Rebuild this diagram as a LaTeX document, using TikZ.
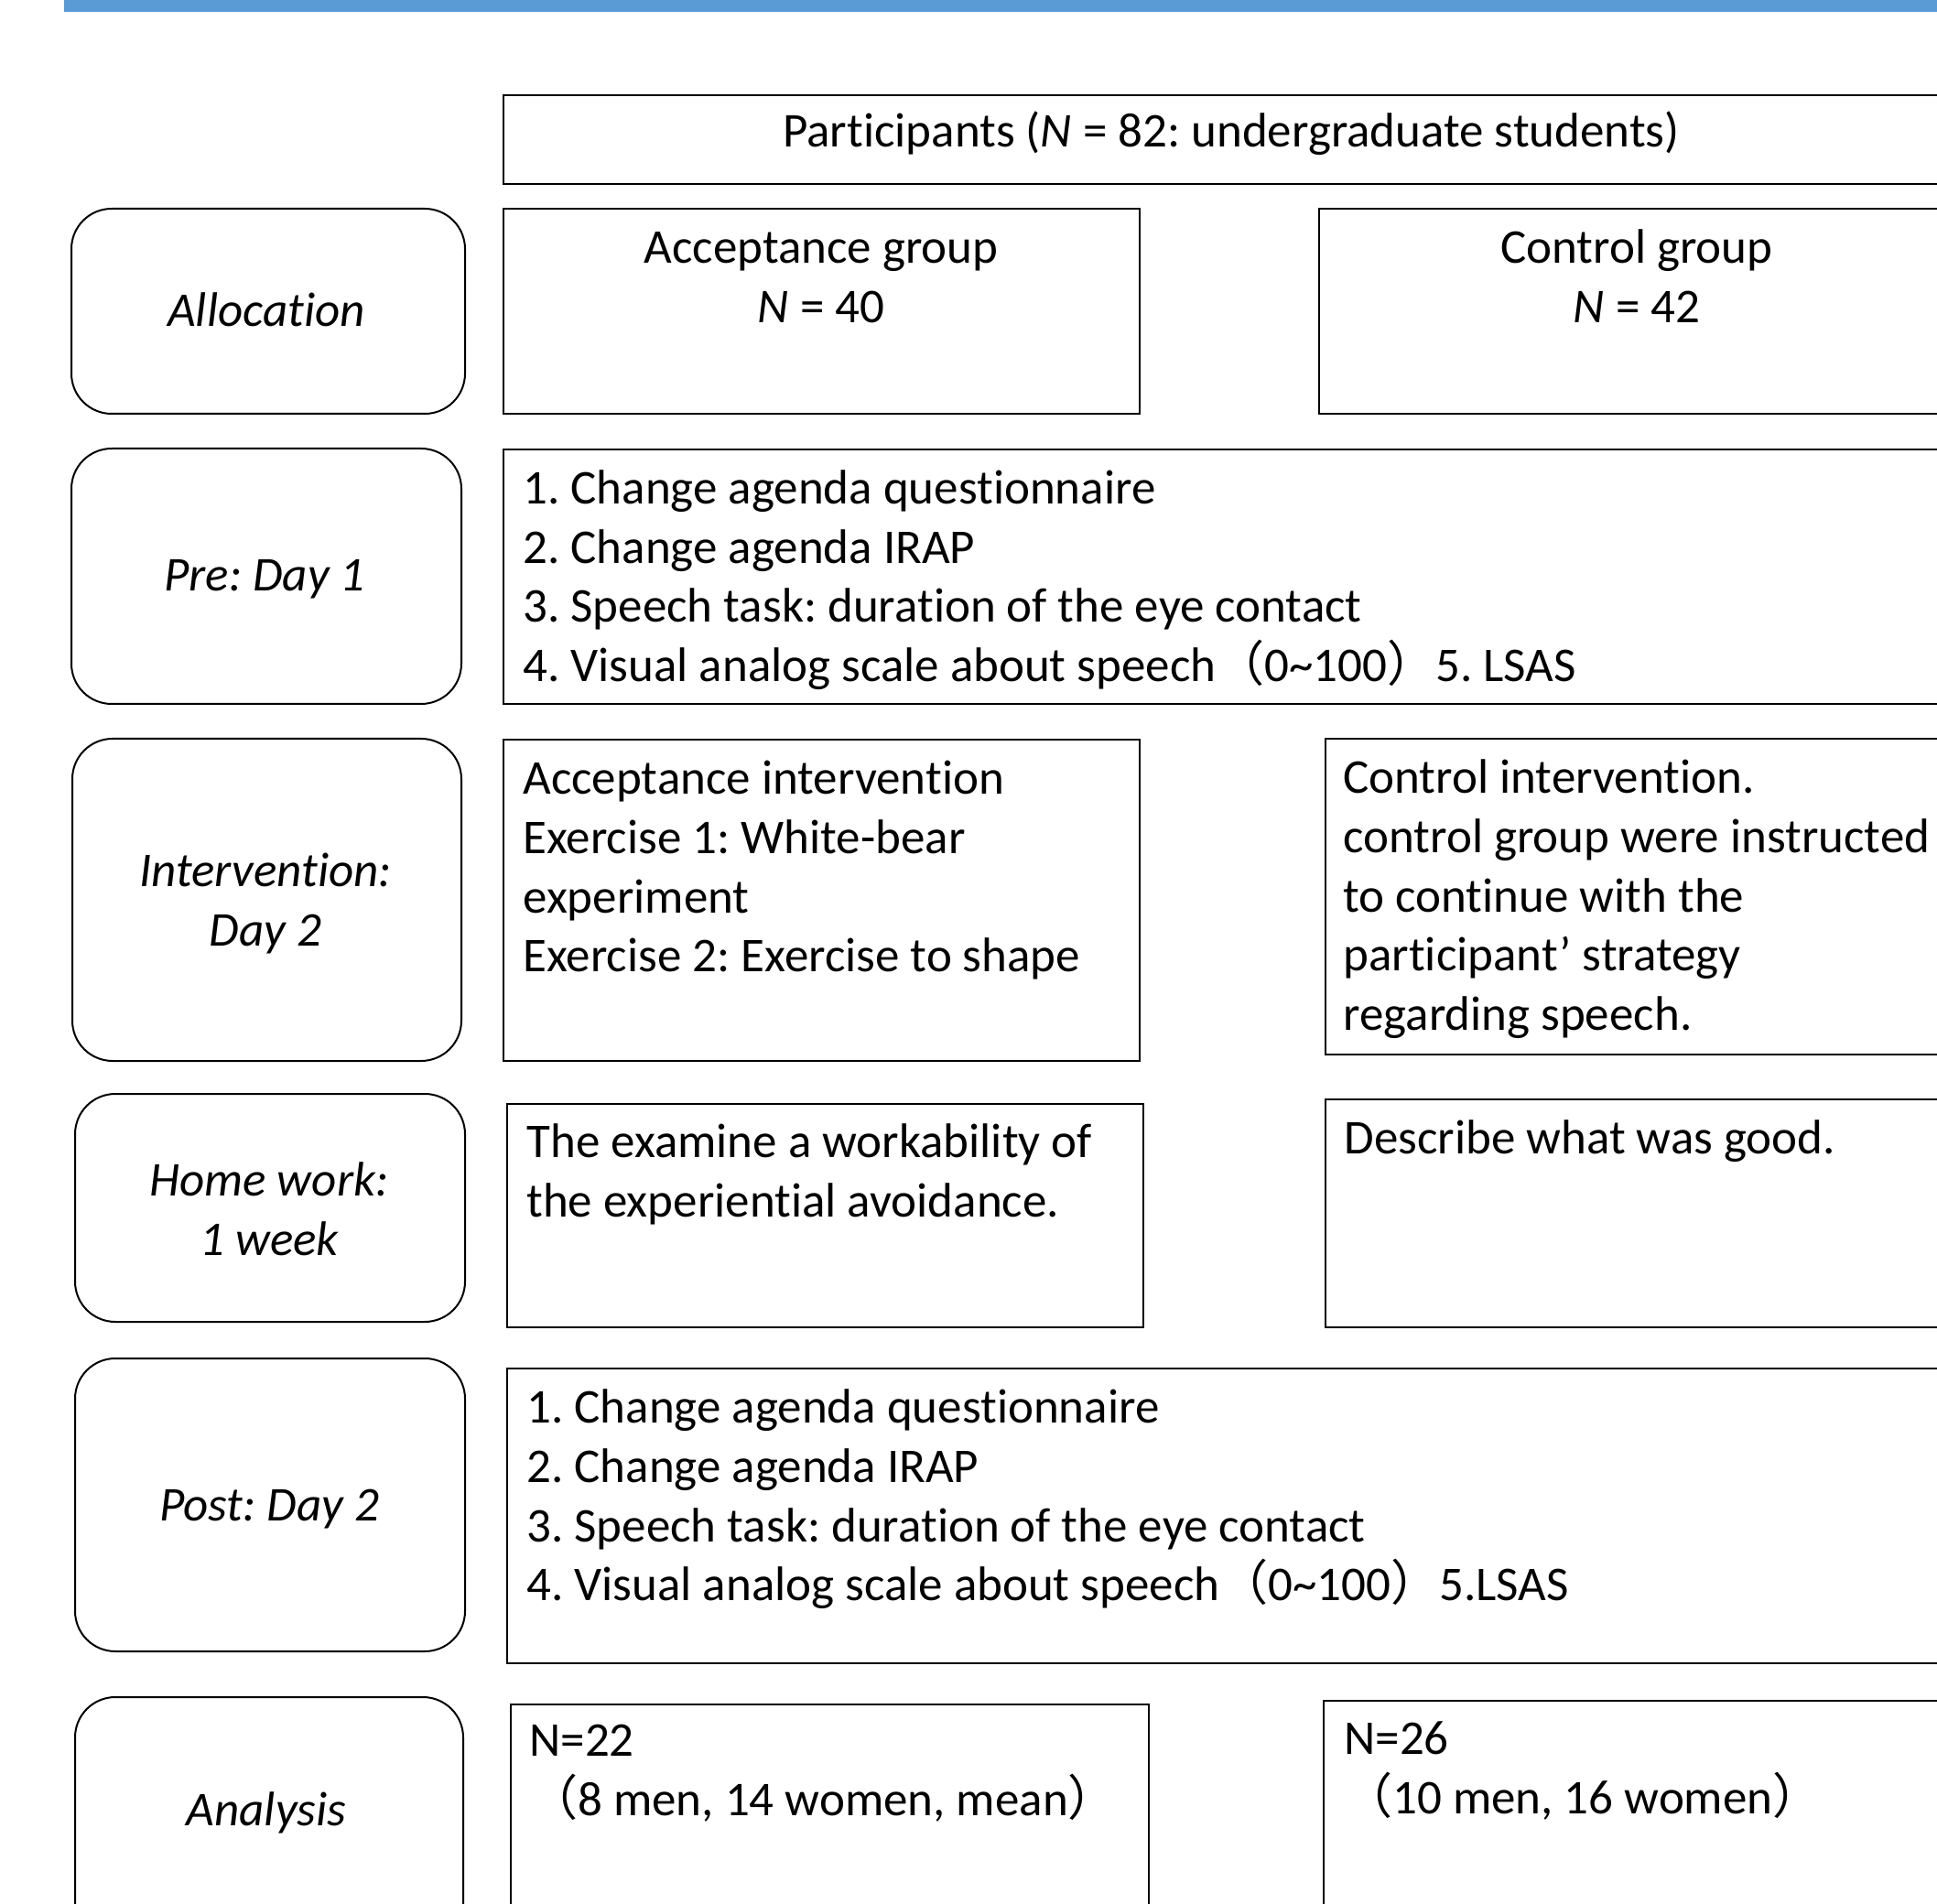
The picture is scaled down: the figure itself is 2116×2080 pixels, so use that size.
\documentclass[tikz,border=0pt]{standalone}
\usepackage{fontspec}
\setmainfont{Carlito}[RawFeature={-liga;-clig;-dlig;-calt;-rlig;-hlig}]
\newfontfamily\cjk{Noto Sans CJK JP}
\definecolor{barblue}{HTML}{5B9BD5}
\newcommand{\fl}{{\cjk （}}
\newcommand{\fr}{{\cjk ）}}
\newcommand{\tl}{\rule{0pt}{25pt}}
\frenchspacing
\begin{document}
\begin{tikzpicture}[x=0.5pt,y=-0.5pt,
  sq/.style={draw, line width=1.2pt, inner sep=0pt, anchor=north west},
  rd/.style={draw, line width=1pt, rounded corners=22pt, inner sep=0pt, anchor=north west},
  txt/.style={inner sep=0pt, font={\fontsize{26.5pt}{32.4pt}\selectfont\frenchspacing}},
  itx/.style={inner sep=0pt, font={\fontsize{26.5pt}{32.4pt}\selectfont\itshape}},
  lt/.style={txt, anchor=north west, align=left},
  ct/.style={txt, anchor=north, align=center},
]
\useasboundingbox (0,0) rectangle (2116,2080);
\fill[barblue] (70,0) rectangle (2140,13);

% boxes
\node[sq, minimum width=795.5pt, minimum height=48.5pt] (part) at (549,103) {};
\node[rd, minimum width=215pt, minimum height=112pt] (alloc) at (77,227) {};
\node[sq, minimum width=347.5pt, minimum height=112pt] (accg) at (549,227) {};
\node[sq, minimum width=350pt, minimum height=112pt] (ctlg) at (1440,227) {};
\node[rd, minimum width=213pt, minimum height=139.5pt] (prel) at (77,489) {};
\node[sq, minimum width=795.5pt, minimum height=139pt] (pre) at (549,490) {};
\node[rd, minimum width=212.5pt, minimum height=176pt] (intl) at (78,806) {};
\node[sq, minimum width=347.5pt, minimum height=175.5pt] (acci) at (549,807) {};
\node[sq, minimum width=346.5pt, minimum height=172.5pt] (ctli) at (1447,806) {};
\node[rd, minimum width=213pt, minimum height=124.5pt] (hwl) at (81,1194) {};
\node[sq, minimum width=347.5pt, minimum height=122pt] (acch) at (553,1205) {};
\node[sq, minimum width=346.5pt, minimum height=124.5pt] (ctlh) at (1447,1200) {};
\node[rd, minimum width=213pt, minimum height=160pt] (postl) at (81,1483) {};
\node[sq, minimum width=793.5pt, minimum height=161pt] (post) at (553,1494) {};
\node[rd, minimum width=212pt, minimum height=143.5pt] (anl) at (81,1853) {};
\node[sq, minimum width=348.5pt, minimum height=139.5pt] (acca) at (557,1861) {};
\node[sq, minimum width=347.5pt, minimum height=141.5pt] (ctla) at (1445,1857) {};

% texts
\node[txt, anchor=base] (tpart) at (1345,161) {Participants (\textit{N} = 82: undergraduate students)};
\node[ct] (taccg) at (897,237) {\tl Acceptance group\\\textit{N} = 40};
\node[ct] (tctlg) at (1788,237) {\tl Control group\\\textit{N} = 42};
\node[itx, anchor=base] (talloc) at (291,357) {Allocation};

\node[lt] (tpre) at (571,500) {\tl 1. Change agenda questionnaire\\
2. Change agenda IRAP\\
3. Speech task: duration of the eye contact\\
4. Visual analog scale about speech\fl 0\textasciitilde 100\fr 5. LSAS};
\node[itx, anchor=base] (tprel) at (289,646) {Pre: Day 1};

\node[itx, anchor=north, align=center] (tintl) at (290,918) {\tl Intervention:\\Day 2};
\node[lt] (tacci) at (571,817) {\tl Acceptance intervention\\
Exercise 1: White-bear\\
experiment\\
Exercise 2: Exercise to shape};
\node[lt] (tctli) at (1467,816) {\tl Control intervention.\\
control group were instructed\\
to continue with the\\
participant’ strategy\\
regarding speech.};

\node[itx, anchor=north, align=center] (thwl) at (294,1256) {\tl Home work:\\1 week};
\node[lt] (tacch) at (575,1214) {\tl The examine a workability of\\the experiential avoidance.};
\node[lt] (tctlh) at (1468,1210) {\tl Describe what was good.};

\node[itx, anchor=base] (tpostl) at (294,1661) {Post: Day 2};
\node[lt] (tpost) at (575,1504) {\tl 1. Change agenda questionnaire\\
2. Change agenda IRAP\\
3. Speech task: duration of the eye contact\\
4. Visual analog scale about speech\fl 0\textasciitilde 100\fr 5.LSAS};

\node[itx, anchor=base] (tanl) at (291,1994) {Analysis};
\node[lt] (tacca) at (578,1868) {\tl N=22\\\fl 8 men, 14 women, mean\fr};
\node[lt] (tctla) at (1468,1866) {\tl N=26\\\fl 10 men, 16 women\fr};
\end{tikzpicture}
\end{document}
